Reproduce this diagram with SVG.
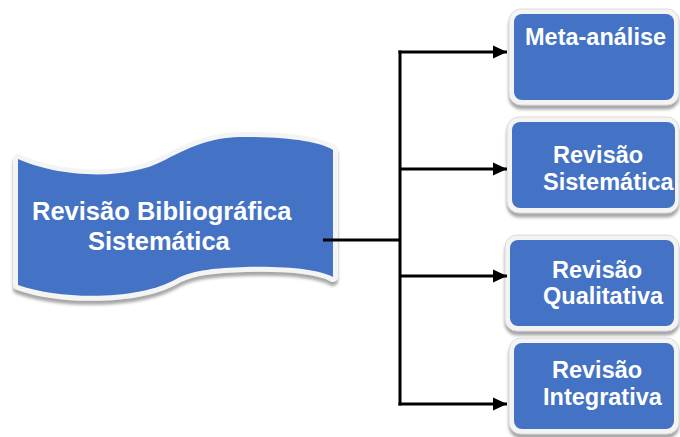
<svg xmlns="http://www.w3.org/2000/svg" width="680" height="437" viewBox="0 0 680 437">
<style>
.blue{fill:#4472C4;}
.frame{fill:#f4f4f4;stroke:#dadada;stroke-width:1;}
.lbl{font-family:"Liberation Sans",Arial,sans-serif;font-weight:bold;fill:#ffffff;}
.conn{stroke:#000;stroke-width:3;fill:none;}
</style>
<defs>
<filter id="sh" x="-10%" y="-10%" width="120%" height="130%">
<feDropShadow dx="0" dy="4" stdDeviation="1.5" flood-color="#808080" flood-opacity="0.7"/>
</filter>
<marker id="ah" markerUnits="userSpaceOnUse" markerWidth="15" markerHeight="15" refX="14" refY="7.5" orient="auto">
<path d="M0,1 L14,7.5 L0,14 Z" fill="#000"/>
</marker>
</defs>
<rect width="680" height="437" fill="#ffffff"/>

<g id="revisao-bibliografica">
<path d="M18,159 C50,174 120,184 165,160 C195,144 215,137 245,137 C290,137 320,142 333,150 L333,277 C320,270 290,266 245,267 C215,268 195,270 178,278 C140,301 60,300 18,285 Z" fill="#f4f4f4" stroke="#f4f4f4" stroke-width="10" stroke-linejoin="round" filter="url(#sh)"/>
<path class="blue" d="M18,159 C50,174 120,184 165,160 C195,144 215,137 245,137 C290,137 320,142 333,150 L333,277 C320,270 290,266 245,267 C215,268 195,270 178,278 C140,301 60,300 18,285 Z"/>
<text class="lbl" font-size="25.5" x="32" y="220">Revisão Bibliográfica</text>
<text class="lbl" font-size="25.5" x="88" y="250">Sistemática</text>
</g>

<g id="meta-analise">
<rect class="frame" x="509" y="9" width="170" height="96" rx="12" filter="url(#sh)"/>
<rect class="blue" x="514" y="14" width="160" height="86" rx="8"/>
<text class="lbl" font-size="23.5" x="525" y="45">Meta-análise</text>
</g>

<g id="revisao-sistematica">
<rect class="frame" x="507" y="117" width="172" height="96" rx="12" filter="url(#sh)"/>
<rect class="blue" x="512" y="122" width="163" height="86" rx="8"/>
<text class="lbl" font-size="23.5" x="553" y="163">Revisão</text>
<text class="lbl" font-size="23.5" x="543" y="190">Sistemática</text>
</g>

<g id="revisao-qualitativa">
<rect class="frame" x="505" y="235" width="174" height="96" rx="12" filter="url(#sh)"/>
<rect class="blue" x="510" y="240" width="164" height="86" rx="8"/>
<text class="lbl" font-size="23.5" x="552" y="278">Revisão</text>
<text class="lbl" font-size="23.5" x="543" y="304">Qualitativa</text>
</g>

<g id="revisao-integrativa">
<rect class="frame" x="509" y="338" width="170" height="96" rx="12" filter="url(#sh)"/>
<rect class="blue" x="514" y="343" width="160" height="86" rx="8"/>
<text class="lbl" font-size="23.5" x="552" y="378">Revisão</text>
<text class="lbl" font-size="23.5" x="543" y="405">Integrativa</text>
</g>

<g id="connectors">
<path class="conn" d="M323,240 H400"/>
<path class="conn" d="M400,50.5 V405.5"/>
<path class="conn" d="M398.5,52 H507" marker-end="url(#ah)"/>
<path class="conn" d="M400,169 H507" marker-end="url(#ah)"/>
<path class="conn" d="M400,276 H507" marker-end="url(#ah)"/>
<path class="conn" d="M398.5,404 H507" marker-end="url(#ah)"/>
</g>
</svg>
